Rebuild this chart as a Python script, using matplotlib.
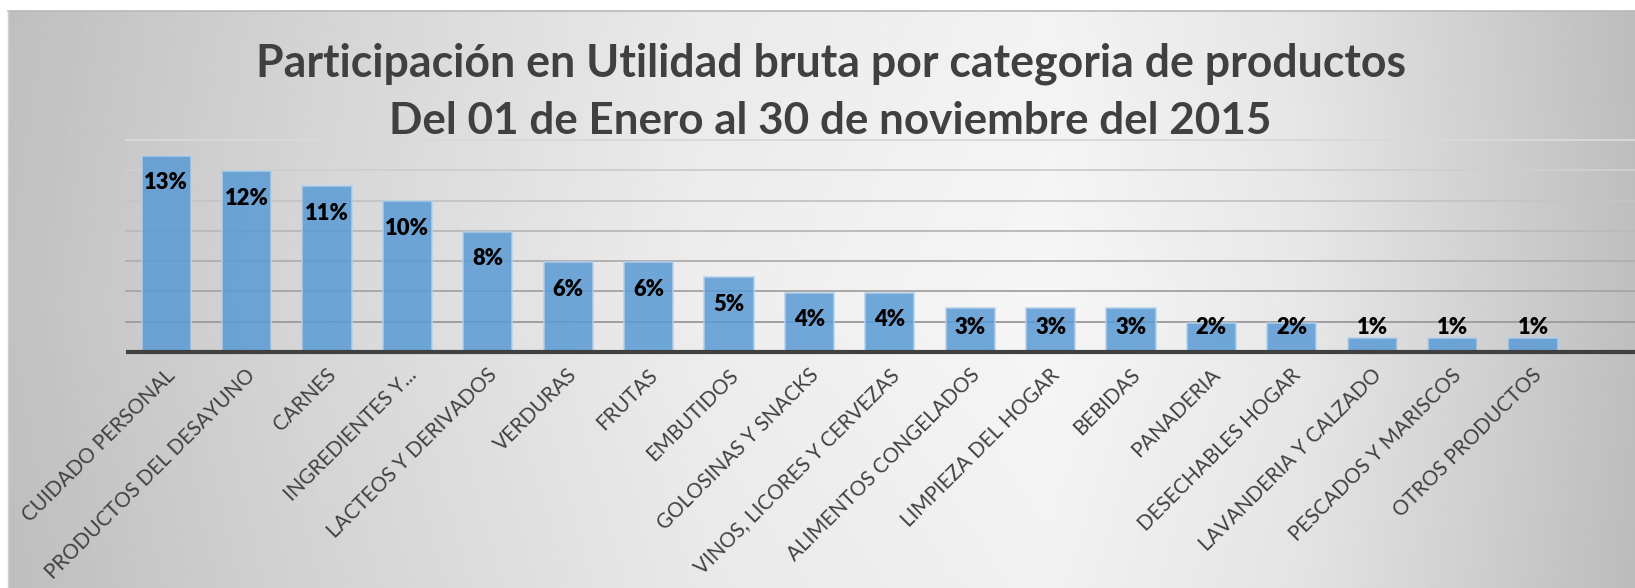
import numpy as np
import matplotlib
matplotlib.use("Agg")
import matplotlib.pyplot as plt

categories = ["CUIDADO PERSONAL", "PRODUCTOS DEL DESAYUNO", "CARNES", "INGREDIENTES Y...",
              "LACTEOS Y DERIVADOS", "VERDURAS", "FRUTAS", "EMBUTIDOS", "GOLOSINAS Y SNACKS",
              "VINOS, LICORES Y CERVEZAS", "ALIMENTOS CONGELADOS", "LIMPIEZA DEL HOGAR",
              "BEBIDAS", "PANADERIA", "DESECHABLES HOGAR", "LAVANDERIA Y CALZADO",
              "PESCADOS Y MARISCOS", "OTROS PRODUCTOS"]
values = [12.95, 11.95, 10.95, 9.95, 7.95, 5.93, 5.93, 4.92, 3.92, 3.92,
          2.93, 2.93, 2.93, 1.93, 1.93, 0.94, 0.94, 0.94]
title_line1 = "Participación en Utilidad bruta por categoria de productos"
title_line2 = "Del 01 de Enero al 30 de noviembre del 2015"
yticks = [0, 2, 4, 6, 8, 10, 12, 14]

W, H = 1635, 588
DPI = 100
fig = plt.figure(figsize=(W / DPI, H / DPI), dpi=DPI, facecolor="white")

# background gradient panel
bg = fig.add_axes([8 / W, 0, 1 - 8 / W, (H - 11) / H], zorder=0)
xs = np.linspace(8, W, 400)
ys = np.linspace(11, H, 200)
hx = np.interp(xs, [8, 300, 700, 1050, 1300, 1635], [0.76, 0.84, 0.93, 0.965, 0.91, 0.75])
vy = np.interp(ys, [11, 300, 588], [0.985, 1.0, 0.98])
grad = np.outer(vy, hx)
bg.imshow(grad, cmap="gray", vmin=0, vmax=1, aspect="auto", extent=[0, 1, 1, 0],
          interpolation="bilinear")
bg.set_xlim(0, 1); bg.set_ylim(1, 0)
bg.axis("off")
fig.add_artist(plt.Line2D([8 / W, 1], [(H - 11) / H] * 2, color="#b8b8b8", lw=1.2))
fig.add_artist(plt.Line2D([8 / W] * 2, [0, (H - 11) / H], color="#cfcfcf", lw=1.0))

# plot axes
ax_left, ax_bottom = 126 / W, (H - 352) / H
ax = fig.add_axes([ax_left, ax_bottom, 1 - ax_left, (352 - 140) / H], zorder=1)
ax.patch.set_alpha(0)
n = len(categories)
x = np.arange(n)
slot_px = 80.4
ax.set_xlim(-0.5, (W - 126) / slot_px - 0.5)
ax.set_ylim(0, 14)

# gridlines (lighter near the top)
for yv in yticks[1:]:
    t = yv / 14
    g = 0.58 + 0.27 * t
    ax.axhline(yv, color=(g, g, g), lw=1.4, zorder=1, clip_on=False)

bars = ax.bar(x, values, width=0.61, color="#5b9bd5", alpha=0.86,
              edgecolor="#b4d0ec", linewidth=1.2, zorder=2)
ax.axhline(0, color="#404040", lw=3.0, zorder=4, solid_capstyle="butt", clip_on=False)

for s in ax.spines.values():
    s.set_visible(False)
ax.set_yticks([])
ax.set_xticks(x)
ax.set_xticklabels([])
ax.tick_params(length=0)

renderer = fig.canvas.get_renderer()

def fit(txt, target_px):
    txt.set_fontsize(20)
    w = txt.get_window_extent(renderer).width
    txt.set_fontsize(20 * target_px / w)

# data labels
px_per_unit = (352 - 140) / 14
lab_font = "Lato"
probe = ax.text(0, 0, "13%", fontweight="heavy", family=lab_font)
fit(probe, 44)
lab_size = probe.get_fontsize()
probe.remove()
for xi, v in zip(x, values):
    yc = max(v - 27 / px_per_unit, 24 / px_per_unit)
    ax.text(xi, yc, f"{v:.0f}%", ha="center", va="center", fontsize=lab_size,
            fontweight="heavy", color="black", family=lab_font, zorder=5)

# category labels
probe = ax.text(0, 0, "CUIDADO PERSONAL", family="Lato")
fit(probe, 206)
cat_size = probe.get_fontsize()
probe.remove()
for xi, c in zip(x, categories):
    ax.annotate(c, xy=(xi, 0), xycoords="data", xytext=(6, -20),
                textcoords="offset pixels", rotation=45, rotation_mode="anchor",
                ha="right", va="center", fontsize=cat_size, color="#404040",
                family="Lato", annotation_clip=False)

# title
t1 = fig.text(831 / W, (H - 76.7) / H, title_line1, ha="center", va="baseline",
              fontweight="bold", color="#404040", family="Lato")
fit(t1, 1152)
t2 = fig.text(830.5 / W, (H - 134) / H, title_line2, ha="center", va="baseline",
              fontweight="bold", color="#404040", family="Lato")
fit(t2, 883)

fig.savefig("out.png", dpi=DPI, facecolor="white")
